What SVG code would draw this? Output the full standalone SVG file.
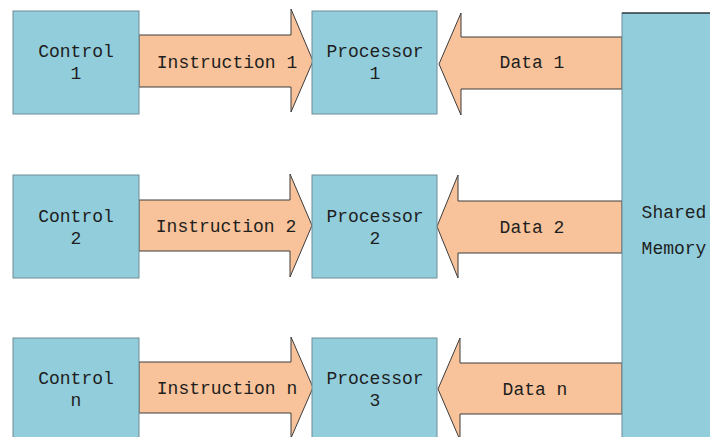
<svg xmlns="http://www.w3.org/2000/svg" width="710" height="437" viewBox="0 0 710 437">
  <style>
    .box { fill: #92CDDC; stroke: #6E8C96; stroke-width: 1; }
    .arrow { fill: #F8C39A; stroke: #3C3C3C; stroke-width: 1; stroke-linejoin: miter; }
    .label { font-family: "Liberation Mono", "DejaVu Sans Mono", monospace; font-size: 18px; fill: #1E1E1E; text-anchor: middle; }
  </style>
  <rect width="710" height="437" fill="#FFFFFF"/>

  <!-- connectors: instruction and data block arrows -->
  <g id="connectors">
    <polygon class="arrow" points="139,35 291,35 291,9 313,61 291,112 291,87 139,87"/>
    <text class="label" x="227" y="68">Instruction 1</text>
    <polygon class="arrow" points="622,37 461,37 461,13 439,64 461,115 461,89 622,89"/>
    <text class="label" x="532" y="68">Data 1</text>

    <polygon class="arrow" points="139,200 290,200 290,174 312,225.5 290,277 290,251 139,251"/>
    <text class="label" x="226" y="232">Instruction 2</text>
    <polygon class="arrow" points="622,201 458,201 458,175 437,226.5 458,278 458,253 622,253"/>
    <text class="label" x="532" y="233">Data 2</text>

    <polygon class="arrow" points="139,362 291,362 291,337 313,387.5 291,438 291,413 139,413"/>
    <text class="label" x="227" y="394">Instruction n</text>
    <polygon class="arrow" points="622,363 460,363 460,338 438,389 460,440 460,414 622,414"/>
    <text class="label" x="535" y="395">Data n</text>
  </g>

  <!-- control units -->
  <g id="control1">
    <rect class="box" x="13" y="11" width="126" height="103"/>
    <text class="label" x="76" y="57">Control</text>
    <text class="label" x="76" y="79">1</text>
  </g>
  <g id="control2">
    <rect class="box" x="13" y="175" width="126" height="103"/>
    <text class="label" x="76" y="222">Control</text>
    <text class="label" x="76" y="244">2</text>
  </g>
  <g id="controln">
    <rect class="box" x="13" y="338" width="126" height="110"/>
    <text class="label" x="76" y="384">Control</text>
    <text class="label" x="76" y="406">n</text>
  </g>

  <!-- processors -->
  <g id="processor1">
    <rect class="box" x="312" y="11" width="125" height="103"/>
    <text class="label" x="375" y="57">Processor</text>
    <text class="label" x="375" y="79">1</text>
  </g>
  <g id="processor2">
    <rect class="box" x="312" y="175" width="125" height="103"/>
    <text class="label" x="375" y="222">Processor</text>
    <text class="label" x="375" y="244">2</text>
  </g>
  <g id="processor3">
    <rect class="box" x="312" y="338" width="125" height="110"/>
    <text class="label" x="375" y="384">Processor</text>
    <text class="label" x="375" y="406">3</text>
  </g>

  <!-- shared memory -->
  <g id="shared-memory">
    <rect class="box" x="622" y="13" width="110" height="440"/>
    <line x1="622" y1="13" x2="710" y2="13" stroke="#111" stroke-width="1.2"/>
    <text class="label" x="674" y="218">Shared</text>
    <text class="label" x="674" y="254">Memory</text>
  </g>
</svg>
